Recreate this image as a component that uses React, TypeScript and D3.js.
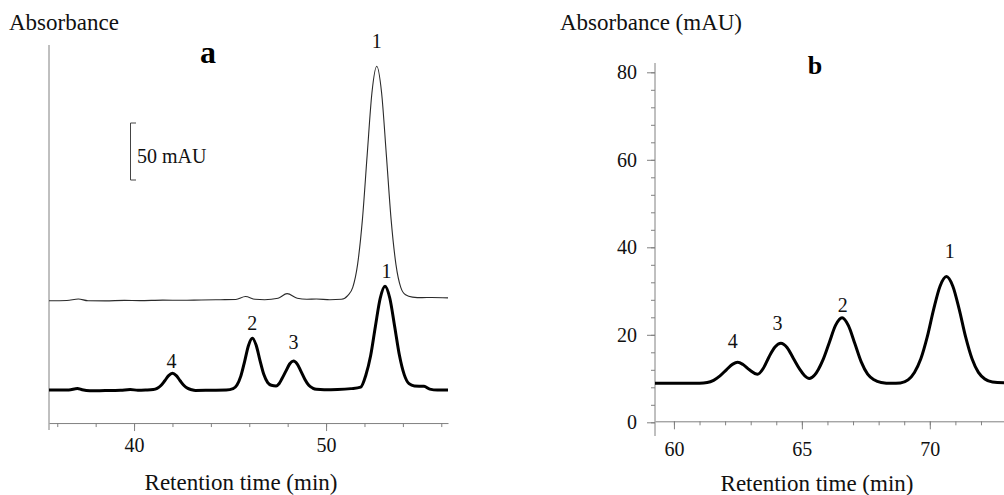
import React, { useEffect, useRef } from "react";
import * as d3 from "d3";

// panel a: upper (thin) trace, retention time (min) and absorbance (mAU, offset trace)
const thinTimeA = [35.57, 36.5, 37.1, 37.6, 38.5, 39.5, 40.3, 41.5, 42.5, 43.5, 44.5, 45.3, 45.8, 46.3, 46.8, 47.5, 47.97, 48.5, 49.0, 49.5, 50.2, 50.8, 51.14, 51.39, 51.64, 51.89, 52.14, 52.39, 52.64, 52.89, 53.14, 53.39, 53.64, 53.89, 54.14, 54.5, 55.0, 55.5, 56.35];
const thinAbsA = [78.3, 78.5, 79.8, 78.3, 78.2, 78.6, 78.4, 78.8, 78.7, 79.0, 79.2, 79.4, 82.0, 79.6, 79.2, 80.5, 84.5, 80.5, 79.6, 79.8, 79.2, 79.6, 83.0, 90.0, 110.0, 149.0, 206.0, 261.0, 284.0, 261.0, 206.0, 149.0, 110.0, 90.0, 83.5, 81.5, 81.0, 81.2, 80.8];

// panel a: lower (thick) trace
const thickTimeA = [35.57, 36.6, 37.05, 37.3, 37.7, 38.5, 39.3, 39.8, 40.2, 40.6, 41.0, 41.2, 41.4, 41.6, 41.8, 42.0, 42.2, 42.4, 42.6, 42.8, 43.0, 43.2, 44.0, 44.8, 45.16, 45.36, 45.56, 45.76, 45.96, 46.16, 46.36, 46.56, 46.76, 46.96, 47.15, 47.4, 47.55, 47.7, 47.9, 48.1, 48.3, 48.5, 48.7, 48.9, 49.1, 49.3, 49.5, 49.9, 50.6, 51.3, 51.8, 52.07, 52.32, 52.57, 52.82, 53.07, 53.32, 53.57, 53.82, 54.07, 54.32, 54.6, 55.1, 55.4, 55.8, 56.35];
const thickAbsA = [0, 0.1, 1.3, 0.2, -0.6, -0.5, -0.2, 0.4, -0.2, 0, 0.4, 1.4, 3.9, 8.1, 12.6, 14.6, 12.6, 8.1, 3.9, 1.4, 0.2, -0.4, -0.2, 0, 1.2, 4.4, 12.2, 25.2, 39.1, 45.3, 39.3, 25.8, 13.5, 6.5, 4.2, 3.6, 5.5, 9.8, 16.3, 22.8, 25.4, 22.7, 16.1, 9.2, 4.1, 1.7, 0.6, 0.2, 0.4, 1.2, 2.5, 13.0, 30.0, 56.0, 80.5, 91.0, 80.5, 56.0, 30.5, 13.5, 5.5, 3.5, 3.2, 0.8, 0, 0];

const peakNamesA = ["1", "1", "2", "3", "4"];
const peakTimeA = [52.64, 53.15, 46.16, 48.3, 41.95];
const peakAbsA = [300, 98.2, 52.6, 36.0, 19.3];

// panel b
const timeB = [59.26, 60.0, 61.0, 61.3, 61.55, 61.8, 62.05, 62.3, 62.49, 62.7, 62.95, 63.27, 63.5, 63.72, 63.95, 64.18, 64.42, 64.67, 64.92, 65.1, 65.29, 65.5, 65.82, 66.07, 66.32, 66.57, 66.82, 67.07, 67.32, 67.57, 67.82, 68.1, 68.5, 68.85, 69.15, 69.4, 69.65, 69.9, 70.15, 70.4, 70.65, 70.9, 71.15, 71.4, 71.65, 71.9, 72.15, 72.45, 73.0];
const absB = [8.9, 8.9, 8.95, 9.1, 9.6, 10.6, 12.0, 13.3, 13.7, 13.2, 12.0, 11.0, 12.4, 15.0, 17.2, 18.05, 17.1, 14.6, 12.1, 10.7, 10.0, 10.8, 14.2, 18.2, 22.2, 23.9, 22.1, 18.0, 13.8, 11.0, 9.7, 9.1, 8.9, 9.0, 9.7, 11.4, 14.5, 19.5, 25.8, 31.1, 33.3, 31.1, 25.8, 19.5, 14.5, 11.4, 9.9, 9.2, 9.0];

const peakNamesB = ["1", "2", "3", "4"];
const peakTimeB = [70.78, 66.6, 64.05, 62.3];
const peakAbsB = [37.6, 25.3, 21.1, 17.0];

const ticksXA = [40, 50];
const ticksYB = [0, 20, 40, 60, 80];
const ticksXB = [60, 65, 70];

const FONT = "'Liberation Serif', 'DejaVu Serif', serif";
const AXIS = "#808080";
const INK = "#111";

const App = () => {
  const ref = useRef<SVGSVGElement>(null);

  useEffect(() => {
    const svg = d3.select(ref.current);
    svg.selectAll("*").remove();
    const g = svg.append("g");

    const label = (x: number, y: number, size: number, txt: string, anchor = "start", bold = false) =>
      g.append("text")
        .attr("x", x).attr("y", y)
        .attr("text-anchor", anchor)
        .style("font-family", FONT)
        .style("font-size", `${size}px`)
        .style("font-weight", bold ? "bold" : "normal")
        .style("fill", bold ? "#000" : INK)
        .text(txt);

    const path = d3.line<[number, number]>().curve(d3.curveMonotoneX);

    // ---------- panel a ----------
    const xA = d3.scaleLinear().domain([35.57, 56.35]).range([49, 448]);
    const yA = d3.scaleLinear().domain([0, 50]).range([390, 333]);
    const axisYA = yA(-29);

    g.append("line")
      .attr("x1", 49).attr("x2", 49)
      .attr("y1", 45).attr("y2", 430)
      .attr("stroke", AXIS);

    const xMinA = g.append("g").attr("transform", `translate(0,${axisYA})`);
    xMinA.call(d3.axisBottom(xA).tickValues(d3.range(36, 57, 2)).tickSize(4).tickSizeOuter(0).tickFormat(() => ""));
    const xMajA = g.append("g").attr("transform", `translate(0,${axisYA})`);
    xMajA.call(d3.axisBottom(xA).tickValues(ticksXA).tickSize(8).tickSizeOuter(0));
    xMajA.select(".domain").remove();
    xMajA.selectAll("text").attr("y", 29).attr("dy", 0);

    const thinPts: [number, number][] = thinTimeA.map((t, i) => [xA(t), yA(thinAbsA[i])]);
    const thickPts: [number, number][] = thickTimeA.map((t, i) => [xA(t), yA(thickAbsA[i])]);

    g.append("path").attr("d", path(thinPts)).attr("fill", "none")
      .attr("stroke", "#2a2a2a").attr("stroke-width", 1.1);
    g.append("path").attr("d", path(thickPts)).attr("fill", "none")
      .attr("stroke", "#000").attr("stroke-width", 3).attr("stroke-linejoin", "round");

    peakNamesA.forEach((n, i) => label(xA(peakTimeA[i]), yA(peakAbsA[i]), 20, n, "middle"));

    // 50 mAU scale bar
    const barTop = 123;
    const barLen = yA(0) - yA(50);
    g.append("path")
      .attr("d", `M136,${barTop}H130.5V${barTop + barLen}H136`)
      .attr("fill", "none").attr("stroke", "#444").attr("stroke-width", 1);
    label(137, 163, 20, "50 mAU");

    label(9, 30, 23, "Absorbance");
    label(208, 63, 32, "a", "middle", true);
    label(241, 490, 23, "Retention time (min)", "middle");

    // ---------- panel b ----------
    const xB = d3.scaleLinear().domain([59.26, 72.9]).range([655, 1004]);
    const yB = d3.scaleLinear().domain([0, 80]).range([422.3, 72.3]);

    g.append("line")
      .attr("x1", 655).attr("x2", 655)
      .attr("y1", 63).attr("y2", 436)
      .attr("stroke", AXIS);

    const yMinB = g.append("g").attr("transform", "translate(655,0)");
    yMinB.call(d3.axisLeft(yB).tickValues(d3.range(0, 81, 4)).tickSize(4).tickSizeOuter(0).tickFormat(() => ""));
    yMinB.select(".domain").remove();
    const yMajB = g.append("g").attr("transform", "translate(655,0)");
    yMajB.call(d3.axisLeft(yB).tickValues(ticksYB).tickSize(8).tickSizeOuter(0));
    yMajB.select(".domain").remove();
    yMajB.selectAll("text").attr("x", -18);

    const xMinB = g.append("g").attr("transform", `translate(0,${yB(0) - 1})`);
    xMinB.call(d3.axisBottom(xB).tickValues(d3.range(60, 73, 1)).tickSize(4).tickSizeOuter(0).tickFormat(() => ""));
    const xMajB = g.append("g").attr("transform", `translate(0,${yB(0) - 1})`);
    xMajB.call(d3.axisBottom(xB).tickValues(ticksXB).tickSize(8).tickSizeOuter(0));
    xMajB.select(".domain").remove();
    xMajB.selectAll("text").attr("y", 35).attr("dy", 0);

    [xMinA, xMajA, yMinB, yMajB, xMinB, xMajB].forEach((a) => {
      a.attr("font-family", null).attr("font-size", null);
      a.selectAll("line").attr("stroke", AXIS);
      a.selectAll(".domain").attr("stroke", AXIS);
      a.selectAll("text")
        .style("font-family", FONT)
        .style("font-size", "20px")
        .style("fill", INK);
    });

    const ptsB: [number, number][] = timeB.map((t, i) => [xB(t), yB(absB[i])]);
    g.append("path").attr("d", path(ptsB)).attr("fill", "none")
      .attr("stroke", "#000").attr("stroke-width", 3).attr("stroke-linejoin", "round");

    peakNamesB.forEach((n, i) => label(xB(peakTimeB[i]), yB(peakAbsB[i]), 20, n, "middle"));

    label(560, 30, 23, "Absorbance (mAU)");
    label(815, 74, 26, "b", "middle", true);
    label(817, 491, 23, "Retention time (min)", "middle");
  }, []);

  return (
    <svg
      ref={ref}
      width={1004}
      height={495}
      style={{ position: "absolute", left: 0, top: 0, background: "#fff", display: "block" }}
    />
  );
};

export default App;
